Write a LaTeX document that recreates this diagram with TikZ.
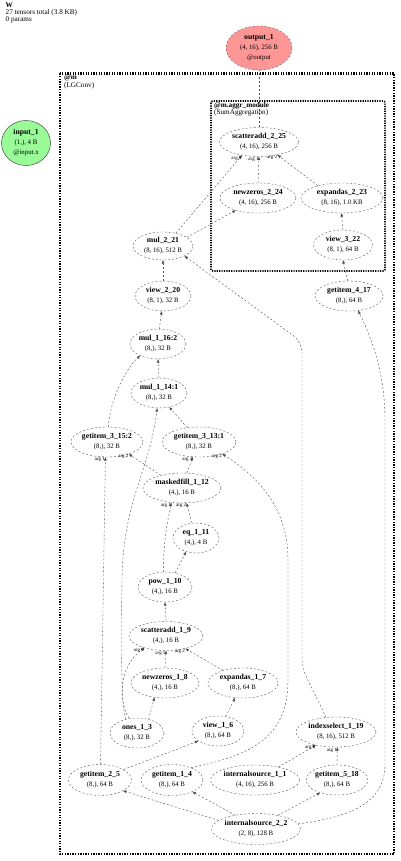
\documentclass[tikz,border=0pt]{standalone}
\usepackage{fontspec}
\setmainfont{Liberation Serif}
\usetikzlibrary{shapes.geometric,arrows.meta}
\definecolor{outred}{RGB}{255,150,150}
\definecolor{ingreen}{RGB}{152,251,152}
\newcommand{\tnname}[1]{{\fontsize{7.7}{10}\selectfont\bfseries #1}}
\begin{document}
\begin{tikzpicture}[x=1pt,y=-1pt,
  tn/.style={ellipse, draw=black!65, dash pattern=on 2pt off 2pt, line width=0.4pt, fill=white, inner sep=0pt, align=center, font=\fontsize{6.8}{10}\selectfont},
  ed/.style={draw=black!70, line width=0.4pt, dash pattern=on 2pt off 2pt, -{Triangle[length=3.4pt,width=2.6pt]}},
  pl/.style={draw=black!70, line width=0.4pt, dash pattern=on 2pt off 2pt},
  al/.style={font=\fontsize{5}{5}\selectfont, inner sep=0.3pt, anchor=north east},
  lbl/.style={anchor=north west, inner sep=0pt, align=left, font=\fontsize{7.2}{7.5}\selectfont},
  ]
\useasboundingbox (0,0) rectangle (400,861);
% clusters
\draw[line width=2.6pt, dash pattern=on 1.3pt off 1.3pt] (60,73.5) rectangle (394,854);
\draw[line width=1.8pt, dash pattern=on 1.2pt off 1.2pt, rounded corners=2pt] (211,101) rectangle (385,271);
\node[lbl, font=\fontsize{7.2}{7}\selectfont] (hdr) at (5.5,3) {\textbf{W}\\27 tensors total (3.8 KB)\\0 params};
\node[lbl] (mlab) at (64,75) {\textbf{@m}\\(LGConv)};
\node[lbl] (alab) at (214,102) {\textbf{@m.aggr\_module}\\(SumAggregation)};
% nodes
\node[tn, fill=outred, minimum width=66pt, minimum height=44pt] (out1) at (259,48) {\tnname{output\_1}\\(4, 16), 256 B\\@output};
\node[ellipse, draw=black!70, line width=0.5pt, fill=ingreen, inner sep=0pt, align=center, font=\fontsize{6.8}{10}\selectfont, minimum width=49pt, minimum height=45pt] (in1) at (26,143) {\tnname{input\_1}\\(1,), 4 B\\@input.x};
\node[tn, minimum width=79pt, minimum height=29pt] (sa225) at (259,142) {\tnname{scatteradd\_2\_25}\\(4, 16), 256 B};
\node[tn, minimum width=76pt, minimum height=30pt] (nz224) at (258,198) {\tnname{newzeros\_2\_24}\\(4, 16), 256 B};
\node[tn, minimum width=82pt, minimum height=30pt] (ex223) at (342,198) {\tnname{expandas\_2\_23}\\(8, 16), 1.0 KB};
\node[tn, minimum width=59pt, minimum height=30pt] (v322) at (343,245) {\tnname{view\_3\_22}\\(8, 1), 64 B};
\node[tn, minimum width=60pt, minimum height=28pt] (mul221) at (163,246) {\tnname{mul\_2\_21}\\(8, 16), 512 B};
\node[tn, minimum width=68pt, minimum height=30pt] (gi417) at (349,296) {\tnname{getitem\_4\_17}\\(8,), 64 B};
\node[tn, minimum width=56pt, minimum height=30pt] (v220) at (163,296) {\tnname{view\_2\_20}\\(8, 1), 32 B};
\node[tn, minimum width=56pt, minimum height=30pt] (mul116) at (158,344) {\tnname{mul\_1\_16:2}\\(8,), 32 B};
\node[tn, minimum width=56pt, minimum height=30pt] (mul114) at (159,393) {\tnname{mul\_1\_14:1}\\(8,), 32 B};
\node[tn, minimum width=72pt, minimum height=30pt] (gi3152) at (107,442) {\tnname{getitem\_3\_15:2}\\(8,), 32 B};
\node[tn, minimum width=74pt, minimum height=30pt] (gi3131) at (199,442) {\tnname{getitem\_3\_13:1}\\(8,), 32 B};
\node[tn, minimum width=78pt, minimum height=30pt] (mf112) at (182,488) {\tnname{maskedfill\_1\_12}\\(4,), 16 B};
\node[tn, minimum width=46pt, minimum height=30pt] (eq111) at (196,538) {\tnname{eq\_1\_11}\\(4,), 4 B};
\node[tn, minimum width=54pt, minimum height=30pt] (pow110) at (165,587) {\tnname{pow\_1\_10}\\(4,), 16 B};
\node[tn, minimum width=74pt, minimum height=29pt] (sa19) at (166,636) {\tnname{scatteradd\_1\_9}\\(4,), 16 B};
\node[tn, minimum width=68pt, minimum height=30pt] (nz18) at (165,683) {\tnname{newzeros\_1\_8}\\(4,), 16 B};
\node[tn, minimum width=70pt, minimum height=30pt] (ex17) at (243,683) {\tnname{expandas\_1\_7}\\(8,), 64 B};
\node[tn, minimum width=54pt, minimum height=30pt] (ones13) at (137,733) {\tnname{ones\_1\_3}\\(8,), 32 B};
\node[tn, minimum width=52pt, minimum height=30pt] (v16) at (218,731) {\tnname{view\_1\_6}\\(8,), 64 B};
\node[tn, minimum width=80pt, minimum height=30pt] (is119) at (336,732) {\tnname{indexselect\_1\_19}\\(8, 16), 512 B};
\node[tn, minimum width=63pt, minimum height=31pt] (gi25) at (100,780) {\tnname{getitem\_2\_5}\\(8,), 64 B};
\node[tn, minimum width=62pt, minimum height=31pt] (gi14) at (172,780) {\tnname{getitem\_1\_4}\\(8,), 64 B};
\node[tn, minimum width=89pt, minimum height=30pt] (is11) at (255,780) {\tnname{internalsource\_1\_1}\\(4, 16), 256 B};
\node[tn, minimum width=60pt, minimum height=30pt] (gi518) at (337,780) {\tnname{getitem\_5\_18}\\(8,), 64 B};
\node[tn, minimum width=89pt, minimum height=31pt] (is22) at (256,829) {\tnname{internalsource\_2\_2}\\(2, 8), 128 B};
% edges
\draw[pl] (sa225.north) -- (out1.south);
\draw[ed] (nz224.90) -- (sa225.-90) node[al] {arg 1};
\draw[ed] (ex223.153) -- (sa225.-35) node[al] {arg 2};
\draw[ed] (mul221.45) -- (sa225.218) node[al] {arg 0};
\draw[ed] (mul221.20) -- (nz224.209);
\draw[ed] (v322.90) -- (ex223.-92);
\draw[ed] (gi417.95) -- (v322.-90);
\draw[ed] (v220.90) -- (mul221.-90);
\draw[ed, rounded corners=10pt] (is119.124) -- (302,668) -- (302,342) -- (mul221.-25);
\draw[ed] (mul116.85) -- (v220.-95);
\draw[ed] (mul114.90) -- (mul116.-90);
\draw[ed] (gi3152.85) .. controls (110,400) and (125,370) .. (mul116.213);
\draw[ed] (gi3131.129) -- (mul114.-54);
\draw[ed] (ones13.130) .. controls (121,700) and (121,640) .. (122,580) .. controls (123,500) and (150,470) .. (mul114.-97);
\draw[ed] (mf112.149) -- (gi3152.-29) node[al] {arg 2};
\draw[ed] (gi25.88) -- (gi3152.-96) node[al] {arg 1};
\draw[ed] (mf112.72) -- (gi3131.-112) node[al] {arg 1};
\draw[ed] (gi14.33) .. controls (255,755) and (288,735) .. (288,680) -- (288,560) .. controls (288,505) and (255,475) .. (gi3131.-27) node[al] {arg 2};
\draw[ed] (pow110.95) .. controls (163,540) and (168,520) .. (mf112.-126) node[al] {arg 1};
\draw[ed] (eq111.105) -- (mf112.-73) node[al] {arg 2};
\draw[ed] (pow110.54) -- (eq111.234);
\draw[ed] (sa19.90) -- (pow110.-90);
\draw[ed] (ones13.118) .. controls (117,700) and (120,665) .. (sa19.209) node[al] {arg 0};
\draw[ed] (nz18.90) -- (sa19.-90) node[al] {arg 1};
\draw[ed] (ex17.148) -- (sa19.-33) node[al] {arg 2};
\draw[ed] (ones13.50) -- (nz18.234);
\draw[ed] (v16.62) -- (ex17.242);
\draw[ed] (gi25.24) -- (v16.207);
\draw[ed] (is22.167) -- (gi25.-25);
\draw[ed] (is22.146) -- (gi14.-30);
\draw[ed] (is22.32) -- (gi518.217);
\draw[ed] (is22.7) .. controls (345,818) and (385,805) .. (385,765) -- (385,420) .. controls (385,370) and (370,335) .. (gi417.-58);
\draw[ed] (is11.29) -- (is119.213) node[al] {arg 0};
\draw[ed] (gi518.90) -- (is119.-85) node[al] {arg 1};
\end{tikzpicture}
\end{document}
